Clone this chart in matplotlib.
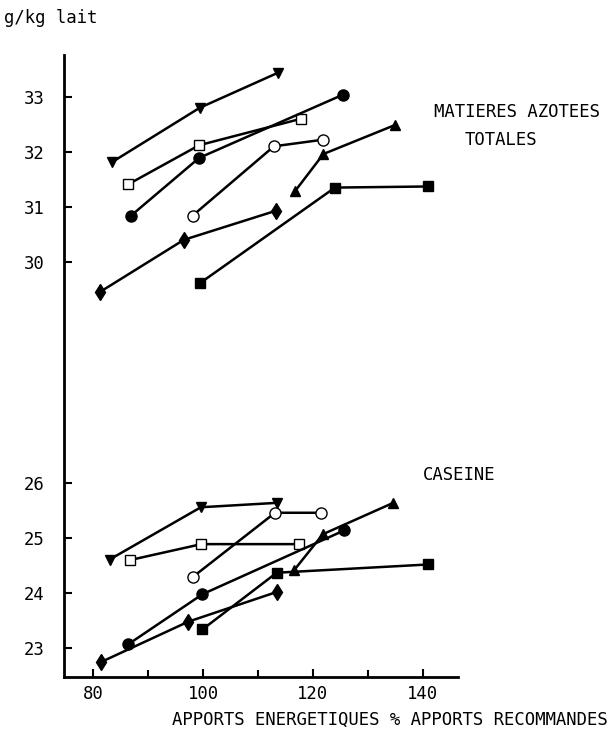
import numpy as np
import matplotlib.pyplot as plt

plt.rcParams['font.family'] = ['DejaVu Sans Mono']

# matieres azotees totales (g/kg lait)
mat_tri_down_x = [83.4, 99.4, 113.7]
mat_tri_down_y = [31.82, 32.81, 33.45]
mat_sq_open_x = [86.4, 99.3, 117.8]
mat_sq_open_y = [31.42, 32.13, 32.61]
mat_circ_fill_x = [86.9, 99.3, 125.5]
mat_circ_fill_y = [30.85, 31.90, 33.05]
mat_circ_open_x = [98.1, 112.9, 121.8]
mat_circ_open_y = [30.85, 32.11, 32.23]
mat_tri_up_x = [116.7, 121.9, 135.0]
mat_tri_up_y = [31.29, 31.97, 32.50]
mat_diam_x = [81.2, 96.5, 113.3]
mat_diam_y = [29.46, 30.41, 30.94]
mat_sq_fill_x = [99.4, 124.0, 141.0]
mat_sq_fill_y = [29.62, 31.36, 31.38]

# caseine (g/kg lait)
cas_tri_down_x = [83.0, 99.6, 113.4]
cas_tri_down_y = [24.60, 25.55, 25.63]
cas_sq_open_x = [86.7, 99.7, 117.5]
cas_sq_open_y = [24.59, 24.88, 24.88]
cas_circ_open_x = [98.1, 113.1, 121.4]
cas_circ_open_y = [24.28, 25.45, 25.45]
cas_circ_fill_x = [86.4, 99.9, 125.7]
cas_circ_fill_y = [23.06, 23.97, 25.13]
cas_tri_up_x = [116.6, 121.8, 134.6]
cas_tri_up_y = [24.41, 25.06, 25.63]
cas_diam_x = [81.5, 97.3, 113.4]
cas_diam_y = [22.74, 23.47, 24.01]
cas_sq_fill_x = [99.9, 113.4, 140.9]
cas_sq_fill_y = [23.33, 24.36, 24.51]

y_ticks = [23, 24, 25, 26, 30, 31, 32, 33]
x_ticks = [80, 100, 120, 140]

fig = plt.figure(figsize=(6.11, 7.32), dpi=100)
ax = fig.add_axes([0.1047, 0.0755, 0.645, 0.8494])

series = [
    (mat_tri_down_x, mat_tri_down_y, 'v', 'k'),
    (mat_sq_open_x, mat_sq_open_y, 's', 'w'),
    (mat_circ_fill_x, mat_circ_fill_y, 'o', 'k'),
    (mat_circ_open_x, mat_circ_open_y, 'o', 'w'),
    (mat_tri_up_x, mat_tri_up_y, '^', 'k'),
    (mat_diam_x, mat_diam_y, 'd', 'k'),
    (mat_sq_fill_x, mat_sq_fill_y, 's', 'k'),
    (cas_tri_down_x, cas_tri_down_y, 'v', 'k'),
    (cas_sq_open_x, cas_sq_open_y, 's', 'w'),
    (cas_circ_open_x, cas_circ_open_y, 'o', 'w'),
    (cas_circ_fill_x, cas_circ_fill_y, 'o', 'k'),
    (cas_tri_up_x, cas_tri_up_y, '^', 'k'),
    (cas_diam_x, cas_diam_y, 'd', 'k'),
    (cas_sq_fill_x, cas_sq_fill_y, 's', 'k'),
]
for xs, ys, m, fc in series:
    ms = 8 if m in ('o', 'd') else 7.5
    ax.plot(xs, ys, '-', color='k', lw=1.8, marker=m, ms=ms,
            mfc=fc, mec='k', mew=1.0)

ax.set_xlim(74.7, 146.4)
ax.set_ylim(22.47, 33.77)
ax.set_xticks(x_ticks)
ax.set_xticks([90, 110, 130], minor=True)
ax.set_yticks(y_ticks)
ax.set_yticklabels([str(v) for v in y_ticks])
ax.tick_params(axis='y', direction='in', length=6, width=1.5, labelsize=12.4, pad=14)
ax.tick_params(axis='x', direction='in', length=6, width=1.5, labelsize=12.4, pad=6)
ax.tick_params(axis='x', which='minor', direction='in', length=5, width=1.5)
ax.spines['top'].set_visible(False)
ax.spines['right'].set_visible(False)
ax.spines['left'].set_linewidth(2)
ax.spines['bottom'].set_linewidth(2)

fig.text(0.006, 0.975, 'g/kg lait', fontsize=12.4, ha='left', va='center')
fig.text(0.995, 0.016, 'APPORTS ENERGETIQUES % APPORTS RECOMMANDES',
         fontsize=12.4, ha='right', va='center')
fig.text(0.846, 0.847, 'MATIERES AZOTEES', fontsize=12.4, ha='center', va='center')
fig.text(0.820, 0.809, 'TOTALES', fontsize=12.4, ha='center', va='center')
fig.text(0.751, 0.351, 'CASEINE', fontsize=12.4, ha='center', va='center')

fig.savefig('out.png', dpi=100)
